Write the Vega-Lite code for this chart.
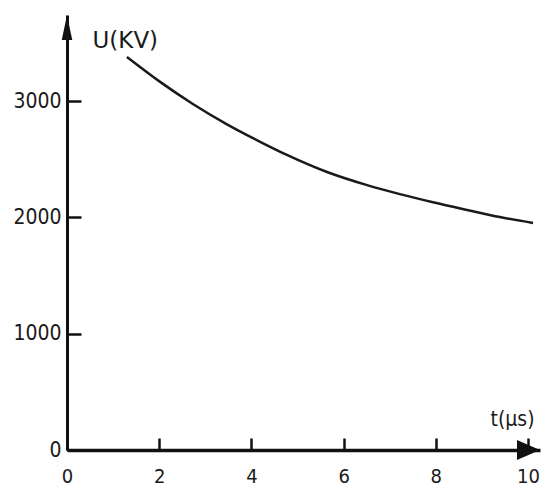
{
  "$schema": "https://vega.github.io/schema/vega-lite/v6.json",
  "autosize": "none",
  "padding": {"left": 67, "top": 15, "right": 2, "bottom": 40},
  "width": 473,
  "height": 435,
  "background": "white",
  "config": {"view": {"stroke": null}},
  "datasets": {
    "curve": [
      {"t": 1.3, "U": 3379},
      {"t": 2.02, "U": 3165},
      {"t": 2.73, "U": 2975},
      {"t": 3.47, "U": 2800},
      {"t": 4.19, "U": 2650},
      {"t": 4.77, "U": 2537},
      {"t": 5.64, "U": 2390},
      {"t": 6.51, "U": 2277},
      {"t": 7.22, "U": 2200},
      {"t": 7.94, "U": 2130},
      {"t": 8.68, "U": 2064},
      {"t": 9.39, "U": 2003},
      {"t": 10.11, "U": 1952}
    ],
    "arrows": [
      {"t": 0, "U": 3633, "kind": "up"},
      {"t": 10.01, "U": 0, "kind": "right"}
    ]
  },
  "layer": [
    {
      "data": {"name": "curve"},
      "mark": {"type": "line", "color": "#1a1a1a", "strokeWidth": 2.5, "interpolate": "monotone"},
      "encoding": {
        "x": {
          "field": "t", "type": "quantitative",
          "scale": {"domain": [0, 10.26], "nice": false, "zero": false},
          "axis": {
            "values": [0, 2, 4, 6, 8, 10],
            "format": "d",
            "grid": false,
            "title": "t(μs)",
            "titleFont": "DejaVu Sans Condensed",
            "titleFontSize": 21,
            "titleFontWeight": "normal",
            "titleColor": "#1a1a1a",
            "titleAlign": "left",
            "titleBaseline": "alphabetic",
            "titleX": 423,
            "titleY": -25,
            "domainColor": "#111",
            "domainWidth": 3.5,
            "tickColor": "#111",
            "tickWidth": 2.5,
            "tickSize": -12,
            "labelFont": "DejaVu Sans Condensed",
            "labelFontSize": 20,
            "labelColor": "#1a1a1a",
            "labelPadding": 28,
            "labelBaseline": "top",
            "labelFlush": false,
            "labelOverlap": false
          }
        },
        "y": {
          "field": "U", "type": "quantitative",
          "scale": {"domain": [0, 3740], "nice": false},
          "axis": {
            "values": [0, 1000, 2000, 3000],
            "format": "d",
            "grid": false,
            "title": "U(KV)",
            "titleFont": "DejaVu Sans",
            "titleFontSize": 23,
            "titleFontWeight": "normal",
            "titleColor": "#1a1a1a",
            "titleAngle": 0,
            "titleAlign": "left",
            "titleBaseline": "alphabetic",
            "titleX": 25,
            "titleY": 32,
            "domainColor": "#111",
            "domainWidth": 3,
            "tickColor": "#111",
            "tickWidth": 2.5,
            "tickSize": -14,
            "labelFont": "DejaVu Sans Condensed",
            "labelFontSize": 21,
            "labelColor": "#1a1a1a",
            "labelPadding": 20,
            "labelFlush": false,
            "labelOverlap": false
          }
        }
      }
    },
    {
      "data": {"name": "arrows"},
      "mark": {"type": "point", "filled": true, "opacity": 1, "color": "#111", "clip": false},
      "encoding": {
        "x": {"field": "t", "type": "quantitative"},
        "y": {"field": "U", "type": "quantitative"},
        "shape": {
          "field": "kind", "type": "nominal",
          "scale": {"domain": ["up", "right"], "range": ["M0,-1L-0.42,1L0.42,1Z", "M1,0L-1,-0.87L-1,0.87Z"]},
          "legend": null
        },
        "size": {
          "field": "kind", "type": "nominal",
          "scale": {"domain": ["up", "right"], "range": [625, 529]},
          "legend": null
        }
      }
    }
  ]
}
